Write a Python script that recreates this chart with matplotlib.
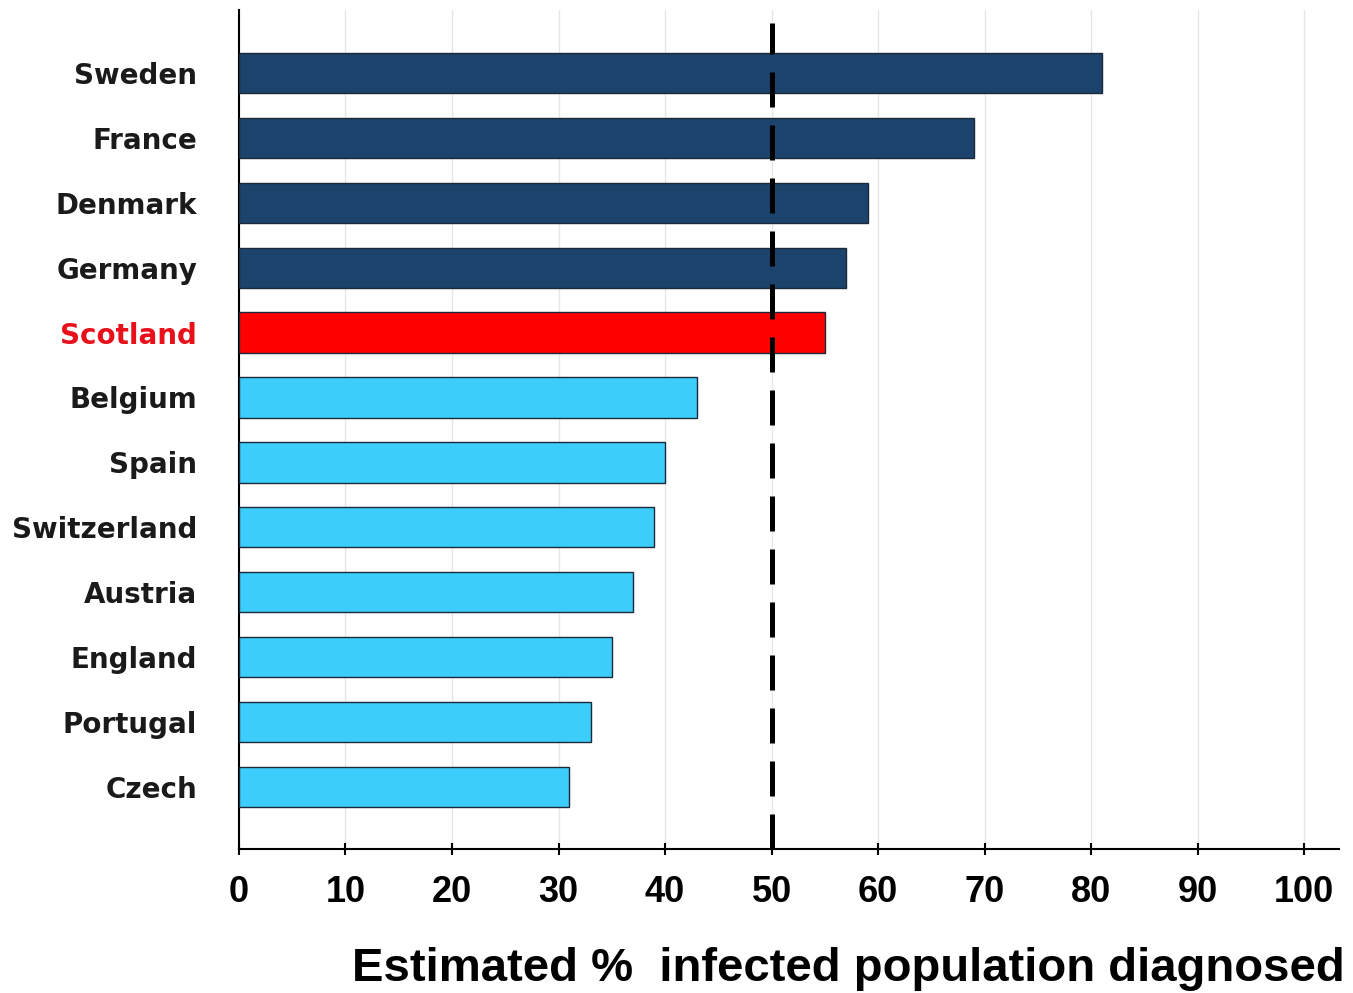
import numpy as np
import matplotlib.pyplot as plt

countries = ["Sweden", "France", "Denmark", "Germany", "Scotland", "Belgium",
             "Spain", "Switzerland", "Austria", "England", "Portugal", "Czech"]
diagnosed = [81, 69, 59, 57, 55, 43, 40, 39, 37, 35, 33, 31]
groups = ["high", "high", "high", "high", "scot", "low",
          "low", "low", "low", "low", "low", "low"]
threshold = 50

colours = {"high": "#1b436b", "scot": "#ff0000", "low": "#3dcdfb"}

fig = plt.figure(figsize=(13.53, 9.93), dpi=100)
ax = fig.add_axes([0.1766, 0.145, 0.8134, 0.845])

ypos = np.arange(len(countries))[::-1]
bar_cols = [colours[g] for g in groups]
ax.barh(ypos, diagnosed, height=0.62, color=bar_cols,
        edgecolor="#1a2a3a", linewidth=1.0, zorder=3)

# dashed reference line at 50%
ax.axvline(threshold, ymax=0.985, color="black", linewidth=3.6,
           dashes=(7, 3.6), zorder=4)

ax.set_xlim(0, 103.3)
ax.set_ylim(-0.955, 11.97)
ax.set_xticks(np.arange(0, 101, 10))
ax.grid(axis="x", color="#e6e6e6", linewidth=1.0, zorder=0)
ax.set_axisbelow(True)

ax.set_yticks(ypos)
ax.set_yticklabels(countries, fontsize=20, fontweight="bold",
                   family="DejaVu Sans", color="#1a1a1a")
for lab, g in zip(ax.get_yticklabels(), groups):
    if g == "scot":
        lab.set_color("#e8101a")
ax.tick_params(axis="y", length=0, pad=30)
ax.tick_params(axis="x", length=9, width=1.5, direction="inout", pad=14)
for lab in ax.get_xticklabels():
    lab.set_fontsize(26)
    lab.set_fontweight("bold")
    lab.set_family("Liberation Sans")

for side in ["top", "right"]:
    ax.spines[side].set_visible(False)
ax.spines["left"].set_linewidth(1.5)
ax.spines["bottom"].set_linewidth(1.5)

fig.text(0.994, 0.012, "Estimated %  infected population diagnosed",
         ha="right", va="baseline", fontsize=34, fontweight="bold",
         family="Liberation Sans")

fig.savefig("out.png", dpi=100)
